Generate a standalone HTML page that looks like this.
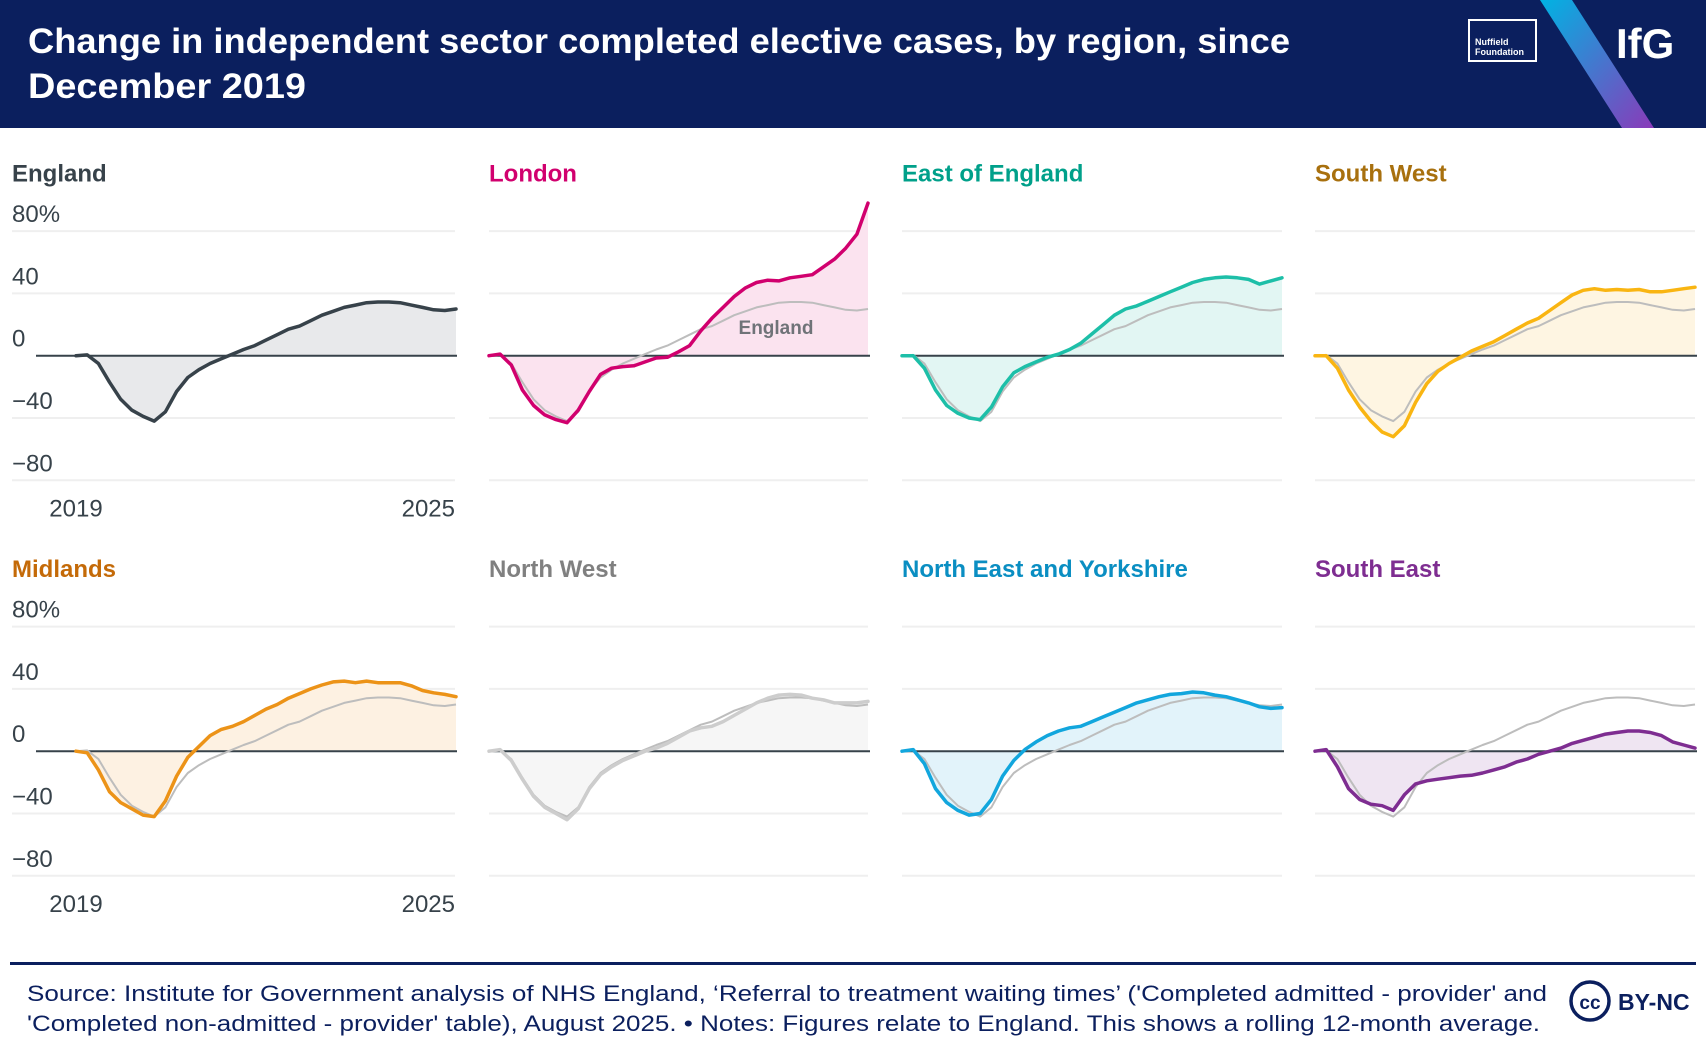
<!DOCTYPE html>
<html><head><meta charset="utf-8">
<style>
html,body{margin:0;padding:0;background:#fff;}
body{width:1706px;height:1052px;position:relative;overflow:hidden;font-family:"Liberation Sans","DejaVu Sans",sans-serif;}
svg{position:absolute;left:0;top:0;}
</style></head>
<body>
<svg id="chart" width="1706" height="1052" viewBox="0 0 1706 1052">
  <rect x="0" y="0" width="1706" height="128" fill="#0b1f5e"/>
  <text x="28" y="53" fill="#fff" font-size="35" font-weight="bold" textLength="1262" lengthAdjust="spacingAndGlyphs">Change in independent sector completed elective cases, by region, since</text>
  <text x="28" y="98" fill="#fff" font-size="35" font-weight="bold" textLength="278" lengthAdjust="spacingAndGlyphs">December 2019</text>
  <defs><linearGradient id="stripe" x1="0" y1="0" x2="1" y2="1"><stop offset="0" stop-color="#00b3e3"/><stop offset="1" stop-color="#8a3ab9"/></linearGradient></defs>
  <polygon points="1540,0 1572,0 1654,128 1622,128" fill="url(#stripe)"/>
  <g>
    <rect x="1469" y="20" width="67" height="41" fill="none" stroke="#fff" stroke-width="2"/>
    <text x="1475" y="45" fill="#fff" font-size="9" font-weight="bold">Nuffield</text>
    <text x="1475" y="55" fill="#fff" font-size="9" font-weight="bold">Foundation</text>
  </g>
  <text x="1616" y="58" fill="#fff" font-size="42" font-weight="bold">IfG</text>
  <g id="panels"></g>
  <rect x="10" y="962" width="1686" height="3" fill="#0b1f5e"/>
  <text x="27" y="1001" fill="#0b1f5e" font-size="22" textLength="1520" lengthAdjust="spacingAndGlyphs">Source: Institute for Government analysis of NHS England, ‘Referral to treatment waiting times’ ('Completed admitted - provider' and</text>
  <text x="27" y="1031" fill="#0b1f5e" font-size="22" textLength="1513" lengthAdjust="spacingAndGlyphs">'Completed non-admitted - provider' table), August 2025. • Notes: Figures relate to England. This shows a rolling 12-month average.</text>
  <g>
    <circle cx="1590" cy="1001" r="19" fill="#fff" stroke="#0b1f5e" stroke-width="3.5"/>
    <text x="1590" y="1009" text-anchor="middle" fill="#0b1f5e" font-size="19" font-weight="bold">cc</text>
    <text x="1618" y="1010" fill="#0b1f5e" font-size="23" font-weight="bold">BY-NC</text>
  </g>
</svg>
<script>
const months = [0,2,4,6,8,10,12,14,16,18,20,22,24,26,28,30,32,34,36,38,40,42,44,46,48,50,52,54,56,58,60,62,64,66,68];
const englandVals = [0,0.5,-5,-17,-28,-35,-39,-42,-36,-23,-14,-9,-5,-2,1,4,6.5,10,13.5,17,19,22.5,26,28.5,31,32.5,34,34.5,34.5,34,32.5,31,29.5,29,30];
const londonVals = [0,1,-6,-22,-32,-38,-41,-43,-35,-23,-12,-8,-7,-6.5,-4,-1.5,-1,2.5,6.5,16,24,31,38,43.5,47,48.5,48,50,51,52,57,62,69,78,98];
const eastVals = [0,0,-8,-22,-32,-37,-40,-41,-33,-20,-11,-7,-4,-1,1,4,8,14,20,26,30,32,35,38,41,44,47,49,50,50.5,50,49,46,48,50];
const southWestVals = [0,0,-8,-22,-33,-42,-49,-52,-45,-30,-18,-10,-5,-1,3,6,9,13,17,21,24,29,34,39,42,43,42,42.5,42,42.5,41,41,42,43,44];
const midlandsVals = [0,-1,-12,-26,-33,-37,-41,-42,-32,-16,-4,3,10,14,16,19,23,27,30,34,37,40,42.5,44.5,45,44,45,44,44,44,42,39,37.5,36.5,35];
const northWestVals = [0,1,-6,-18,-29,-36,-40,-44,-37,-24,-15,-10,-6,-3,0,2,5,9,13,15,16,19,23,27,31,34,36,36.5,36,34,33,31,31,31,32];
const northEastVals = [0,1,-8,-24,-33,-38,-41,-40,-31,-16,-6,1,6,10,13,15,16,19,22,25,28,31,33,35,36.5,37,38,37.5,36,35,33,31,28.5,27.5,28];
const southEastVals = [0,1,-10,-24,-31,-34,-35,-38,-28,-21,-19,-18,-17,-16,-15.5,-14,-12,-10,-7,-5,-2,0,2,5,7,9,11,12,13,13,12,10,6,4,2];
const yTicks = [80,40,0,-40,-80];
const yTickLabels = ['80%','40','0','\u221240','\u221280'];
const xTickLabels = ['2019','2025'];

const NS='http://www.w3.org/2000/svg';
const root=document.getElementById('panels');
const cols=[{g0:12,g1:455,p0:76,p1:456},{g0:489,g1:868,p0:489,p1:868},{g0:902,g1:1282,p0:902,p1:1282},{g0:1315,g1:1695,p0:1315,p1:1695}];
const rows=[355.7,751.2];
const PXPCT=62.3/40;
function mk(tag,attrs,parent){const e=document.createElementNS(NS,tag);for(const k in attrs)e.setAttribute(k,attrs[k]);parent.appendChild(e);return e;}
const panels=[
 {name:'England',slug:'england',vals:englandVals,color:'#37424a',title:'#37424a',fill:'#e8e9eb',r:0,c:0,eng:false},
 {name:'London',slug:'london',vals:londonVals,color:'#d1006e',title:'#d1006e',fill:'#fbe3ef',r:0,c:1,eng:true},
 {name:'East of England',slug:'east-of-england',vals:eastVals,color:'#1dbfa8',title:'#00a08a',fill:'#e2f6f3',r:0,c:2,eng:true},
 {name:'South West',slug:'south-west',vals:southWestVals,color:'#f9b512',title:'#a8700e',fill:'#fef5e2',r:0,c:3,eng:true},
 {name:'Midlands',slug:'midlands',vals:midlandsVals,color:'#ec9318',title:'#c46a08',fill:'#fdf1e2',r:1,c:0,eng:true},
 {name:'North West',slug:'north-west',vals:northWestVals,color:'#cdcdcd',title:'#808080',fill:'#f6f6f6',r:1,c:1,eng:true},
 {name:'North East and Yorkshire',slug:'north-east-and-yorkshire',vals:northEastVals,color:'#12a6dd',title:'#0a8ec2',fill:'#e2f3fa',r:1,c:2,eng:true},
 {name:'South East',slug:'south-east',vals:southEastVals,color:'#7e2d91',title:'#7e2d91',fill:'#efe5f2',r:1,c:3,eng:true}
];
panels.forEach(p=>{
  const col=cols[p.c], zy=rows[p.r];
  const xs=m=>col.p0+(col.p1-col.p0)*m/68;
  const ys=v=>zy-v*PXPCT;
  const g=mk('g',{},root);
  
  
  const t=mk('text',{x:col.g0,y:zy-174,'font-size':24,'font-weight':'bold',fill:p.title},g);
  t.textContent=p.name;
  
  
  yTicks.forEach((v,i)=>{
    if(v===0)return;
    const l=mk('line',{x1:col.g0,x2:col.g1,y1:ys(v),y2:ys(v),stroke:'#efefef','stroke-width':2},g);
    
    
  });
  if(p.c===0){
    yTicks.forEach((v,i)=>{
      const tl=mk('text',{x:12,y:ys(v)-9,'font-size':24,fill:'#37424a'},g);
      tl.textContent=yTickLabels[i];
      
      
    });
    const a=mk('text',{x:xs(0),y:zy+161,'font-size':24,fill:'#37424a','text-anchor':'middle'},g);
    a.textContent=xTickLabels[0];
    
    
    const b=mk('text',{x:col.g1,y:zy+161,'font-size':24,fill:'#37424a','text-anchor':'end'},g);
    b.textContent=xTickLabels[1];
    
    
  }
  const pts=p.vals.map((v,i)=>xs(months[i]).toFixed(1)+','+ys(v).toFixed(1));
  const area=mk('polygon',{points:xs(months[0])+','+zy+' '+pts.join(' ')+' '+xs(months[months.length-1])+','+zy,fill:p.fill},g);
  
  
  const z=mk('line',{x1:col.g0+(p.c===0?24:0),x2:col.g1+2,y1:zy,y2:zy,stroke:'#37424a','stroke-width':2},g);
  
  
  if(p.eng){
    const ep=englandVals.map((v,i)=>xs(months[i]).toFixed(1)+','+ys(v).toFixed(1));
    const el=mk('polyline',{points:ep.join(' '),fill:'none',stroke:'#bdbdbd','stroke-width':2,'stroke-linejoin':'round'},g);
    
    
  }
  const ln=mk('polyline',{points:pts.join(' '),fill:'none',stroke:p.color,'stroke-width':3.5,'stroke-linejoin':'round','stroke-linecap':'round'},g);
  
  
  if(p.slug==='london'){
    const lab=mk('text',{x:776,y:334,'font-size':19,'font-weight':'bold',fill:'#6f7378','text-anchor':'middle'},g);
    lab.textContent='England';
    
    
  }
});
</script>
</body></html>
